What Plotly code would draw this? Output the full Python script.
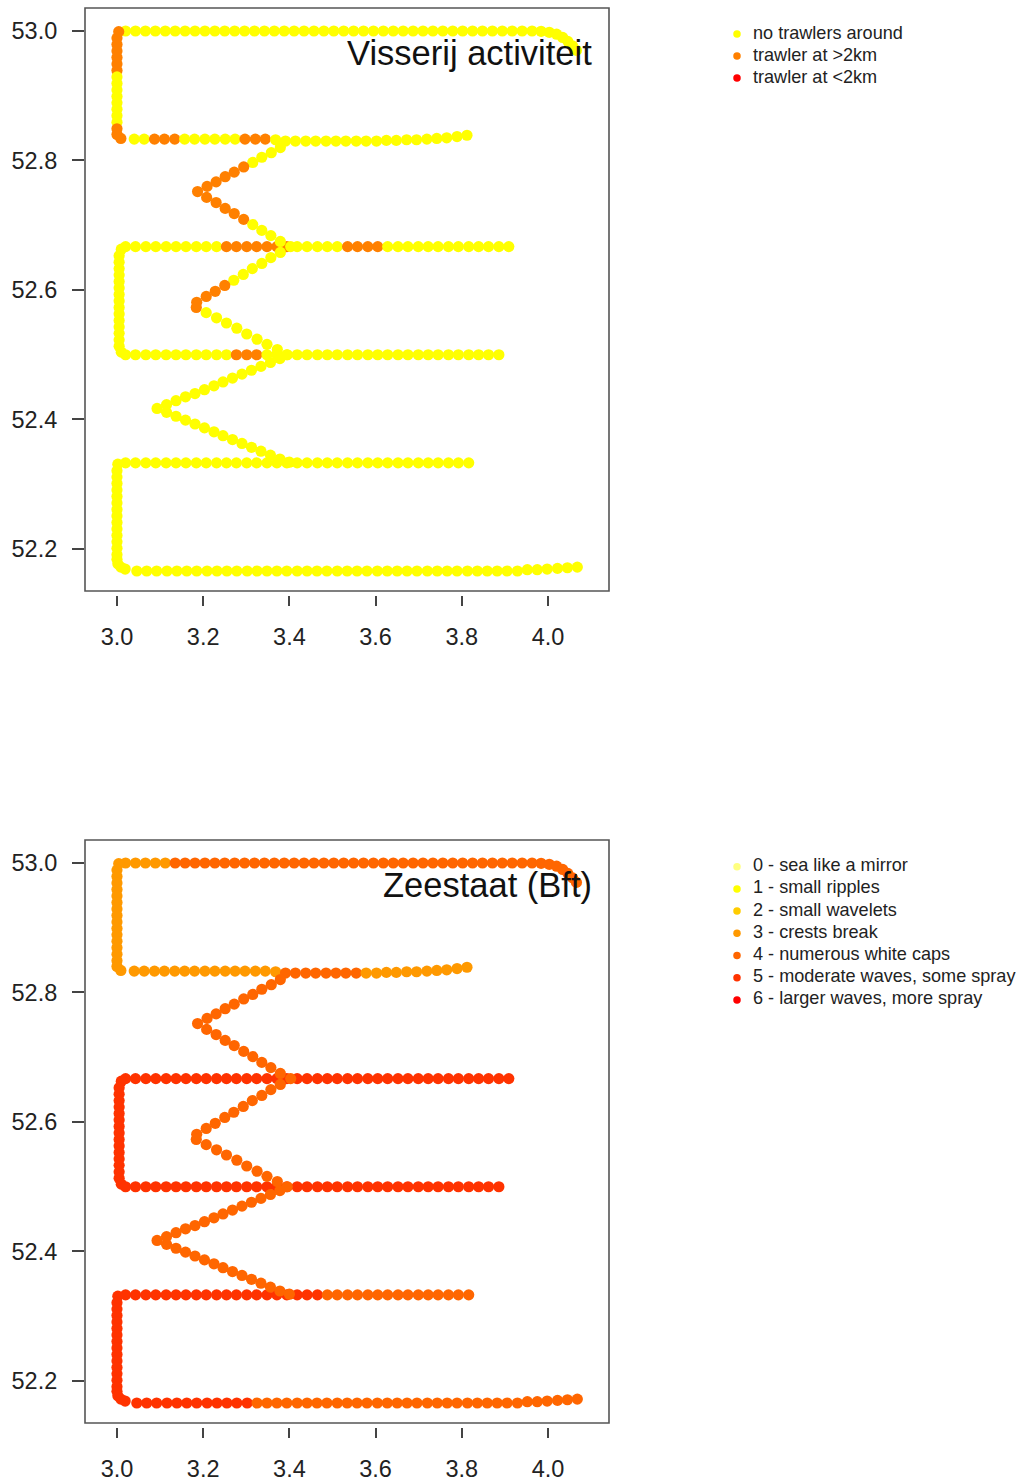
import plotly.graph_objects as go

W, H = 1022, 1483
FONT = "Liberation Sans, Arial, sans-serif"

# ---------------------------------------------------------------------------
# Survey track, leg by leg (longitude, latitude of each fix).
# Category codes per fix: trawler presence (0-2) and sea state in Bft (0-6).
# Spaces inside the code strings only group the digits for readability.
# ---------------------------------------------------------------------------
n53_lon = [3.020, 3.043, 3.066, 3.089, 3.112, 3.135, 3.158, 3.181, 3.204, 3.227,
           3.250, 3.273, 3.296, 3.319, 3.342, 3.365, 3.388, 3.411, 3.434, 3.457,
           3.480, 3.503, 3.526, 3.549, 3.572, 3.595, 3.618, 3.641, 3.664, 3.687,
           3.710, 3.733, 3.756, 3.779, 3.802, 3.825, 3.848, 3.871, 3.894, 3.917,
           3.940, 3.963, 3.984, 4.003, 4.020, 4.034, 4.046, 4.057, 4.066]
n53_lat = [53.000, 53.000, 53.000, 53.000, 53.000, 53.000, 53.000, 53.000, 53.000, 53.000,
           53.000, 53.000, 53.000, 53.000, 53.000, 53.000, 53.000, 53.000, 53.000, 53.000,
           53.000, 53.000, 53.000, 53.000, 53.000, 53.000, 53.000, 53.000, 53.000, 53.000,
           53.000, 53.000, 53.000, 53.000, 53.000, 53.000, 53.000, 53.000, 53.000, 53.000,
           53.000, 53.000, 52.9995, 52.998, 52.995, 52.990, 52.984, 52.977, 52.970]
n53_trawl = "00000 00000 00000 00000 00000 00000 00000 00000 00000 0000"
n53_sea = "33333 44444 44444 44444 44444 44444 44444 44444 44444 4444"

w1_lon = [3.004, 3.000, 3.000, 3.000, 3.000, 3.000, 3.000, 3.000, 3.000, 3.000,
          3.000, 3.000, 3.000, 3.000, 3.000, 3.000, 3.000, 3.009]
w1_lat = [52.999, 52.989, 52.979, 52.969, 52.959, 52.949, 52.939, 52.929, 52.919, 52.909,
          52.899, 52.889, 52.879, 52.869, 52.859, 52.849, 52.840, 52.834]
w1_trawl = "11111 11000 00000 111"
w1_sea = "33333 33333 33333 333"

l833_lon = [3.040, 3.063, 3.087, 3.110, 3.134, 3.157, 3.180, 3.204, 3.227, 3.251,
            3.274, 3.297, 3.321, 3.344, 3.368, 3.391, 3.414, 3.438, 3.461, 3.485,
            3.508, 3.531, 3.555, 3.578, 3.602, 3.625, 3.648, 3.672, 3.695, 3.719,
            3.742, 3.765, 3.789, 3.812]
l833_lat = [52.833, 52.833, 52.833, 52.833, 52.833, 52.833, 52.833, 52.833, 52.833, 52.833,
            52.833, 52.833, 52.833, 52.833, 52.832, 52.830, 52.830, 52.830, 52.830, 52.830,
            52.830, 52.830, 52.830, 52.830, 52.830, 52.831, 52.831, 52.832, 52.832, 52.833,
            52.834, 52.835, 52.837, 52.839]
l833_trawl = "00111 00000 01110 00000 00000 00000 0000"
l833_sea = "33333 33333 33333 44444 44433 33333 3333"

zz1a_lon = [3.379, 3.358, 3.336, 3.315, 3.294, 3.272, 3.251, 3.230, 3.209, 3.187]
zz1a_lat = [52.820, 52.812, 52.805, 52.797, 52.790, 52.782, 52.775, 52.767, 52.760, 52.752]
zz1a_trawl = "00001 11111"
zz1a_sea = "44444 44444"

zz1b_lon = [3.208, 3.230, 3.251, 3.272, 3.294, 3.315, 3.336, 3.357, 3.379, 3.403]
zz1b_lat = [52.743, 52.735, 52.726, 52.718, 52.709, 52.701, 52.692, 52.684, 52.675, 52.667]
zz1b_trawl = "11111 00000"
zz1b_sea = "44444 44444"

l667_lon = [3.020, 3.043, 3.067, 3.090, 3.114, 3.137, 3.160, 3.184, 3.207, 3.231,
            3.254, 3.277, 3.301, 3.324, 3.348, 3.371, 3.394, 3.418, 3.441, 3.465,
            3.488, 3.511, 3.535, 3.558, 3.582, 3.605, 3.628, 3.652, 3.675, 3.699,
            3.722, 3.745, 3.769, 3.792, 3.816, 3.839, 3.862, 3.886, 3.909]
l667_lat = [52.667, 52.667, 52.667, 52.667, 52.667, 52.667, 52.667, 52.667, 52.667, 52.667,
            52.667, 52.667, 52.667, 52.667, 52.667, 52.667, 52.667, 52.667, 52.667, 52.667,
            52.667, 52.667, 52.667, 52.667, 52.667, 52.667, 52.667, 52.667, 52.667, 52.667,
            52.667, 52.667, 52.667, 52.667, 52.667, 52.667, 52.667, 52.667, 52.667]
l667_trawl = "00000 00000 11111 11000 00111 10000 00000 0000"
l667_sea = "55555 55555 55555 55555 55555 55555 55555 5555"

w2_lon = [3.010, 3.005, 3.005, 3.005, 3.005, 3.005, 3.005, 3.005, 3.005, 3.005,
          3.005, 3.005, 3.005, 3.005, 3.005, 3.005, 3.010]
w2_lat = [52.663, 52.653, 52.643, 52.633, 52.623, 52.613, 52.603, 52.593, 52.583, 52.573,
          52.563, 52.553, 52.543, 52.533, 52.523, 52.513, 52.504]
w2_trawl = "00000 00000 00000 00"
w2_sea = "55555 55555 55555 55"

l500_lon = [3.020, 3.043, 3.067, 3.090, 3.114, 3.137, 3.160, 3.184, 3.207, 3.231,
            3.254, 3.277, 3.301, 3.324, 3.348, 3.371, 3.394, 3.418, 3.441, 3.465,
            3.488, 3.511, 3.535, 3.558, 3.582, 3.605, 3.628, 3.652, 3.675, 3.699,
            3.722, 3.745, 3.769, 3.792, 3.816, 3.839, 3.862, 3.886]
l500_lat = [52.500, 52.500, 52.500, 52.500, 52.500, 52.500, 52.500, 52.500, 52.500, 52.500,
            52.500, 52.500, 52.500, 52.500, 52.500, 52.500, 52.500, 52.500, 52.500, 52.500,
            52.500, 52.500, 52.500, 52.500, 52.500, 52.500, 52.500, 52.500, 52.500, 52.500,
            52.500, 52.500, 52.500, 52.500, 52.500, 52.500, 52.500, 52.500]
l500_trawl = "00000 00000 01110 00000 00000 00000 00000 000"
l500_sea = "55555 55555 55555 55555 55555 55555 55555 555"

zz2a_lon = [3.379, 3.357, 3.336, 3.314, 3.293, 3.271, 3.250, 3.228, 3.207, 3.185]
zz2a_lat = [52.658, 52.650, 52.641, 52.633, 52.624, 52.615, 52.607, 52.598, 52.590, 52.581]
zz2a_trawl = "00000 01111"
zz2a_sea = "44444 44444"

zz2b_lon = [3.184, 3.207, 3.231, 3.254, 3.278, 3.301, 3.325, 3.348, 3.372, 3.395]
zz2b_lat = [52.573, 52.565, 52.557, 52.549, 52.541, 52.532, 52.524, 52.516, 52.508, 52.500]
zz2b_trawl = "10000 00000"
zz2b_sea = "44444 44444"

zz3a_lon = [3.378, 3.356, 3.334, 3.312, 3.290, 3.268, 3.246, 3.225, 3.203, 3.181,
            3.159, 3.137, 3.115, 3.093]
zz3a_lat = [52.494, 52.488, 52.482, 52.476, 52.470, 52.464, 52.458, 52.452, 52.446, 52.440,
            52.435, 52.429, 52.423, 52.417]
zz3a_trawl = "00000 00000 0000"
zz3a_sea = "44444 44444 4444"

zz3b_lon = [3.115, 3.137, 3.159, 3.181, 3.203, 3.225, 3.246, 3.268, 3.290, 3.312,
            3.334, 3.356, 3.378, 3.400]
zz3b_lat = [52.411, 52.405, 52.399, 52.393, 52.387, 52.381, 52.375, 52.369, 52.363, 52.357,
            52.351, 52.345, 52.339, 52.334]
zz3b_trawl = "00000 00000 0000"
zz3b_sea = "44444 44444 4444"

l333_lon = [3.020, 3.043, 3.067, 3.090, 3.114, 3.137, 3.160, 3.184, 3.207, 3.231,
            3.254, 3.277, 3.301, 3.324, 3.348, 3.371, 3.394, 3.418, 3.441, 3.465,
            3.488, 3.511, 3.535, 3.558, 3.582, 3.605, 3.628, 3.652, 3.675, 3.699,
            3.722, 3.745, 3.769, 3.792, 3.816]
l333_lat = [52.333, 52.333, 52.333, 52.333, 52.333, 52.333, 52.333, 52.333, 52.333, 52.333,
            52.333, 52.333, 52.333, 52.333, 52.333, 52.333, 52.333, 52.333, 52.333, 52.333,
            52.333, 52.333, 52.333, 52.333, 52.333, 52.333, 52.333, 52.333, 52.333, 52.333,
            52.333, 52.333, 52.333, 52.333, 52.333]
l333_trawl = "00000 00000 00000 00000 00000 00000 00000"
l333_sea = "55555 55555 55555 55555 44444 44444 44444"

w3_lon = [3.002, 3.000, 3.000, 3.000, 3.000, 3.000, 3.000, 3.000, 3.000, 3.000,
          3.000, 3.000, 3.000, 3.000, 3.000, 3.000, 3.002, 3.009, 3.019]
w3_lat = [52.331, 52.321, 52.311, 52.301, 52.291, 52.281, 52.271, 52.261, 52.251, 52.241,
          52.231, 52.221, 52.211, 52.201, 52.191, 52.184, 52.177, 52.172, 52.169]
w3_trawl = "00000 00000 00000 0000"
w3_sea = "55555 55555 55555 5555"

l167_lon = [3.046, 3.069, 3.092, 3.116, 3.139, 3.162, 3.185, 3.209, 3.232, 3.255,
            3.278, 3.302, 3.325, 3.348, 3.371, 3.394, 3.418, 3.441, 3.464, 3.487,
            3.511, 3.534, 3.557, 3.580, 3.604, 3.627, 3.650, 3.673, 3.696, 3.720,
            3.743, 3.766, 3.789, 3.813, 3.836, 3.859, 3.882, 3.905, 3.929, 3.952,
            3.975, 3.998, 4.022, 4.045, 4.068]
l167_lat = [52.166, 52.166, 52.166, 52.166, 52.166, 52.166, 52.166, 52.166, 52.166, 52.166,
            52.166, 52.166, 52.166, 52.166, 52.166, 52.166, 52.166, 52.166, 52.166, 52.166,
            52.166, 52.166, 52.166, 52.166, 52.166, 52.166, 52.166, 52.166, 52.166, 52.166,
            52.166, 52.166, 52.166, 52.166, 52.166, 52.166, 52.166, 52.166, 52.166, 52.168,
            52.168, 52.169, 52.170, 52.171, 52.172]
l167_trawl = "00000 00000 00000 00000 00000 00000 00000 00000 00000"
l167_sea = "55555 55555 55444 44444 44444 44444 44444 44444 44444"

# drawing order of the legs (later legs are drawn on top)
LEGS = [
    (n53_lon, n53_lat, n53_trawl, n53_sea),
    (w1_lon, w1_lat, w1_trawl, w1_sea),
    (l833_lon, l833_lat, l833_trawl, l833_sea),
    (l667_lon, l667_lat, l667_trawl, l667_sea),
    (w2_lon, w2_lat, w2_trawl, w2_sea),
    (l500_lon, l500_lat, l500_trawl, l500_sea),
    (l333_lon, l333_lat, l333_trawl, l333_sea),
    (w3_lon, w3_lat, w3_trawl, w3_sea),
    (l167_lon, l167_lat, l167_trawl, l167_sea),
    (zz1a_lon, zz1a_lat, zz1a_trawl, zz1a_sea),
    (zz1b_lon, zz1b_lat, zz1b_trawl, zz1b_sea),
    (zz2a_lon, zz2a_lat, zz2a_trawl, zz2a_sea),
    (zz2b_lon, zz2b_lat, zz2b_trawl, zz2b_sea),
    (zz3a_lon, zz3a_lat, zz3a_trawl, zz3a_sea),
    (zz3b_lon, zz3b_lat, zz3b_trawl, zz3b_sea),
]

TRAWL_LABELS = ["no trawlers around", "trawler at >2km", "trawler at <2km"]
TRAWL_COLORS = ["#FFFF00", "#FF8000", "#FF0000"]
SEA_LABELS = ["0 - sea like a mirror", "1 - small ripples", "2 - small wavelets",
              "3 - crests break", "4 - numerous white caps",
              "5 - moderate waves, some spray", "6 - larger waves, more spray"]
SEA_COLORS = ["#FFFF80", "#FFFF00", "#FFCC00", "#FF9900", "#FF6600", "#FF3300", "#FF0000"]

LON_TICKS = [3.0, 3.2, 3.4, 3.6, 3.8, 4.0]
LAT_TICKS = [52.2, 52.4, 52.6, 52.8, 53.0]
LON_RANGE = [2.9258, 4.1415]
LAT_RANGE = [52.1351, 53.0355]


def codes(s):
    return [int(c) for c in s.replace(" ", "")]


lon, lat, trawl, sea = [], [], [], []
for lo, la, tr, se in LEGS:
    tr_c, se_c = codes(tr), codes(se)
    assert len(lo) == len(la) == len(tr_c) == len(se_c), (len(lo), len(la), len(tr_c), len(se_c))
    lon += lo
    lat += la
    trawl += tr_c
    sea += se_c


def px_x(p):
    return p / W


def px_y(p):
    return 1 - p / H


fig = go.Figure()

DOT = 11.2
fig.add_trace(go.Scatter(
    x=lon, y=lat, mode="markers", xaxis="x", yaxis="y",
    marker=dict(size=DOT, color=[TRAWL_COLORS[c] for c in trawl], line=dict(width=0)),
    showlegend=False, hoverinfo="skip"))
fig.add_trace(go.Scatter(
    x=lon, y=lat, mode="markers", xaxis="x2", yaxis="y2",
    marker=dict(size=DOT, color=[SEA_COLORS[c] for c in sea], line=dict(width=0)),
    showlegend=False, hoverinfo="skip"))

# key panels: one row per category, dot then label
LEG_FONT = dict(family=FONT, size=18.1, color="#222")
for labels, colors, xa, ya in [(TRAWL_LABELS, TRAWL_COLORS, "x3", "y3"),
                               (SEA_LABELS, SEA_COLORS, "x4", "y4")]:
    rows = list(range(len(labels)))
    fig.add_trace(go.Scatter(
        x=[15] * len(rows), y=rows, mode="markers", xaxis=xa, yaxis=ya,
        marker=dict(size=7.5, color=colors, line=dict(width=0)),
        showlegend=False, hoverinfo="skip"))
    fig.add_trace(go.Scatter(
        x=[31] * len(rows), y=rows, mode="text", text=labels,
        textposition="middle right", textfont=LEG_FONT, xaxis=xa, yaxis=ya,
        showlegend=False, hoverinfo="skip"))

TICKFONT = dict(family=FONT, size=23.5, color="#222")


def lon_axis(top_px, bottom_px):
    return dict(domain=[px_x(85), px_x(609)], range=LON_RANGE,
                tickvals=LON_TICKS, ticktext=[f"{v:.1f}" for v in LON_TICKS],
                ticks="outside", ticklen=10, tickwidth=1.5, tickcolor="#444",
                showline=False, showgrid=False, zeroline=False,
                anchor="free", position=px_y(bottom_px + 3.5),
                tickfont=TICKFONT, ticklabelstandoff=11, automargin=False)


def lat_axis(top_px, bottom_px, anchor):
    return dict(domain=[px_y(bottom_px), px_y(top_px)], range=LAT_RANGE,
                tickvals=LAT_TICKS, ticktext=[f"{v:.1f}" for v in LAT_TICKS],
                ticks="outside", ticklen=12, tickwidth=1.5, tickcolor="#444",
                showline=False, showgrid=False, zeroline=False,
                anchor=anchor, tickfont=TICKFONT, ticklabelstandoff=10,
                automargin=False)


def hidden(domain, rng):
    return dict(domain=domain, range=rng, visible=False, showgrid=False,
                zeroline=False, fixedrange=True)


fig.update_layout(
    width=W, height=H, margin=dict(l=0, r=0, t=0, b=0),
    paper_bgcolor="white", plot_bgcolor="white", showlegend=False,
    font=dict(family=FONT, color="#222"),
    xaxis=lon_axis(8, 591),
    yaxis=lat_axis(8, 591, "x"),
    xaxis2=lon_axis(840, 1423),
    yaxis2=lat_axis(840, 1423, "x2"),
    xaxis3=hidden([px_x(722), 1.0], [0, 300]),
    yaxis3=hidden([px_y(89), px_y(23)], [2.5, -0.5]),
    xaxis4=hidden([px_x(722), 1.0], [0, 300]),
    yaxis4=hidden([px_y(1011), px_y(855.6)], [6.5, -0.5]),
)
fig.update_layout(yaxis3=dict(anchor="x3"), yaxis4=dict(anchor="x4"),
                  xaxis3=dict(anchor="y3"), xaxis4=dict(anchor="y4"))

# frame around each map
for xr, yr in [("x", "y"), ("x2", "y2")]:
    fig.add_shape(type="rect", xref=f"{xr} domain", yref=f"{yr} domain",
                  x0=0, x1=1, y0=0, y1=1, line=dict(color="#555", width=1.6),
                  layer="above")

TITLE_FONT = dict(family=FONT, size=34.5, color="#111")
fig.add_annotation(text="Visserij activiteit", xref="paper", yref="paper",
                   x=px_x(594), y=px_y(53), xanchor="right", yanchor="middle",
                   showarrow=False, font=TITLE_FONT)
fig.add_annotation(text="Zeestaat (Bft)", xref="paper", yref="paper",
                   x=px_x(594), y=px_y(885), xanchor="right", yanchor="middle",
                   showarrow=False, font=TITLE_FONT)

fig.write_html("out.html")
